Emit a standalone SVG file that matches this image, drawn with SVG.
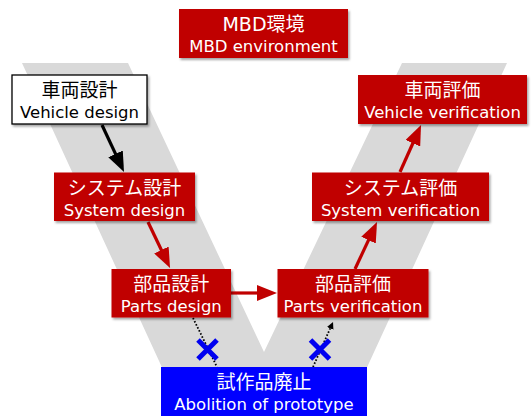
<svg xmlns="http://www.w3.org/2000/svg" width="531" height="416" viewBox="0 0 531 416">
  <style>
    .red { fill: #C00000; filter: url(#sh); }
    .white { fill: #FFFFFF; stroke: #000000; stroke-width: 1.3; filter: url(#sh); }
    .blue { fill: #0000FF; }
    .t1 { font-family: "DejaVu Sans", "Noto Sans CJK JP", sans-serif; font-size: 19px; fill: #FFFFFF; text-anchor: middle; }
    .t2 { font-family: "DejaVu Sans", "Noto Sans CJK JP", sans-serif; font-size: 16.5px; fill: #FFFFFF; text-anchor: middle; }
    .dark { fill: #000000; }
    .arr-red { stroke: #C00000; stroke-width: 3.2; fill: none; }
    .arr-black { stroke: #000000; stroke-width: 3.2; fill: none; }
    .dot { stroke: #000000; stroke-width: 1.8; stroke-dasharray: 1.6 1.8; fill: none; }
    .cross { stroke: #0000F0; stroke-width: 5; stroke-linecap: butt; }
  </style>
  <defs>
    <filter id="sh" x="-10%" y="-15%" width="125%" height="140%">
      <feDropShadow dx="1.5" dy="2" stdDeviation="1.2" flood-color="#000" flood-opacity="0.35"/>
    </filter>
    <marker id="hr" markerUnits="userSpaceOnUse" markerWidth="20" markerHeight="16" refX="3" refY="8" orient="auto">
      <path d="M0,0 L20,8 L0,16 z" fill="#C00000"/>
    </marker>
    <marker id="hb" markerUnits="userSpaceOnUse" markerWidth="20" markerHeight="16" refX="3" refY="8" orient="auto">
      <path d="M0,0 L20,8 L0,16 z" fill="#000000"/>
    </marker>
    <marker id="hs" markerUnits="userSpaceOnUse" markerWidth="7" markerHeight="7" refX="1" refY="3.5" orient="auto">
      <path d="M0,0 L7,3.5 L0,7 z" fill="#000000"/>
    </marker>
  </defs>

  <polygon id="v-band" points="22,63 128,63 264,352 402,63 507,63 352,400 177,400" fill="#D9D9D9"/>

  <g id="connectors">
    <line class="arr-black" x1="102" y1="125" x2="116.8" y2="156.6" marker-end="url(#hb)"/>
    <line class="arr-red" x1="148" y1="222" x2="162.7" y2="252.7" marker-end="url(#hr)"/>
    <line class="arr-red" x1="231" y1="293" x2="260" y2="293" marker-end="url(#hr)"/>
    <line class="arr-red" x1="355" y1="269" x2="369.8" y2="237.4" marker-end="url(#hr)"/>
    <line class="arr-red" x1="400" y1="172" x2="414.1" y2="140.5" marker-end="url(#hr)"/>
    <line class="dot" x1="193" y1="318" x2="217" y2="367"/>
    <line class="dot" x1="313" y1="367" x2="330.6" y2="327.5" marker-end="url(#hs)"/>
  </g>

  <g id="crosses">
    <path class="cross" d="M198,340 L217,359 M217,340 L198,359"/>
    <path class="cross" d="M310.5,340 L329.5,359 M329.5,340 L310.5,359"/>
  </g>

  <g id="mbd">
    <rect class="red" x="179" y="9" width="169" height="49"/>
    <text class="t1" x="263.5" y="31">MBD環境</text>
    <text class="t2" x="263.5" y="52">MBD environment</text>
  </g>

  <g id="vehicle-design">
    <rect class="white" x="12" y="75" width="135" height="49"/>
    <text class="t1 dark" x="79.5" y="97">車両設計</text>
    <text class="t2 dark" x="79.5" y="118">Vehicle design</text>
  </g>

  <g id="vehicle-verification">
    <rect class="red" x="358" y="75" width="169" height="49"/>
    <text class="t1" x="442.5" y="97">車両評価</text>
    <text class="t2" x="442.5" y="118">Vehicle verification</text>
  </g>

  <g id="system-design">
    <rect class="red" x="54" y="172.5" width="141" height="48.5"/>
    <text class="t1" x="124.5" y="194.5">システム設計</text>
    <text class="t2" x="124.5" y="215.5">System design</text>
  </g>

  <g id="system-verification">
    <rect class="red" x="312" y="172.5" width="177" height="48.5"/>
    <text class="t1" x="400.5" y="194.5">システム評価</text>
    <text class="t2" x="400.5" y="215.5">System verification</text>
  </g>

  <g id="parts-design">
    <rect class="red" x="111.5" y="269" width="119.5" height="48.5"/>
    <text class="t1" x="171.25" y="291">部品設計</text>
    <text class="t2" x="171.25" y="312">Parts design</text>
  </g>

  <g id="parts-verification">
    <rect class="red" x="277.5" y="269" width="151" height="48.5"/>
    <text class="t1" x="353" y="291">部品評価</text>
    <text class="t2" x="353" y="312">Parts verification</text>
  </g>

  <g id="abolition">
    <rect class="blue" x="161" y="367" width="206" height="55"/>
    <text class="t1" x="264" y="389">試作品廃止</text>
    <text class="t2" x="264" y="410">Abolition of prototype</text>
  </g>
</svg>
